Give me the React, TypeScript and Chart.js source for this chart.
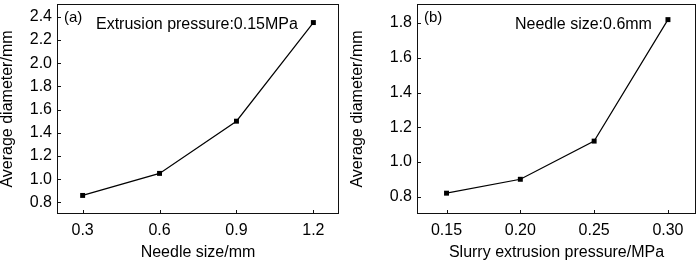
import React, { useEffect, useRef } from "react";
import { Chart, registerables } from "chart.js";

Chart.register(...registerables);

// ---- data ----
const needleSizes = [0.3, 0.6, 0.9, 1.2];
const diameterA = [0.86, 1.05, 1.5, 2.35];
const xTicksA = [0.3, 0.6, 0.9, 1.2];
const yTicksA = [0.8, 1.0, 1.2, 1.4, 1.6, 1.8, 2.0, 2.2, 2.4];

const pressures = [0.15, 0.2, 0.25, 0.3];
const diameterB = [0.82, 0.9, 1.12, 1.82];
const xTicksB = [0.15, 0.2, 0.25, 0.3];
const yTicksB = [0.8, 1.0, 1.2, 1.4, 1.6, 1.8];

const FONT = "'Liberation Sans', Arial, sans-serif";

type PanelCfg = {
  xs: number[];
  ys: number[];
  xTicks: number[];
  yTicks: number[];
  xDec: number;
  xMin: number;
  xMax: number;
  yMin: number;
  yMax: number;
  xTitle: string;
  yTitle: string;
  tag: string;
  note: string;
  noteDx: number;
  yAxisWidth: number;
  padRight: number;
};

const boxPlugin = {
  id: "boxPlugin",
  afterDraw(chart: any, _args: any, opts: any) {
    const ctx = chart.ctx;
    const a = chart.chartArea;
    ctx.save();
    ctx.strokeStyle = "#111";
    ctx.lineWidth = 1;
    ctx.strokeRect(Math.round(a.left) + 0.5, Math.round(a.top) + 0.5, Math.round(a.right - a.left) - 1, Math.round(a.bottom - a.top) - 1);
    // inward tick marks
    const xs = chart.scales.x;
    const ys = chart.scales.y;
    ctx.beginPath();
    xs.ticks.forEach((t: any) => {
      const px = Math.round(xs.getPixelForValue(t.value)) + 0.5;
      ctx.moveTo(px, a.bottom);
      ctx.lineTo(px, a.bottom - 4);
    });
    ys.ticks.forEach((t: any) => {
      const py = Math.round(ys.getPixelForValue(t.value)) + 0.5;
      ctx.moveTo(a.left, py);
      ctx.lineTo(a.left + 4, py);
    });
    ctx.stroke();
    // annotations
    ctx.fillStyle = "#000";
    ctx.textBaseline = "middle";
    ctx.textAlign = "left";
    ctx.font = "15px " + FONT;
    ctx.fillText(opts.tag, a.left + 7, a.top + 14);
    ctx.font = "16px " + FONT;
    ctx.fillText(opts.note, a.left + opts.noteDx, a.top + 21);
    ctx.restore();
  },
};

function Panel({ cfg }: { cfg: PanelCfg }) {
  const ref = useRef<HTMLCanvasElement>(null);
  useEffect(() => {
    if (!ref.current) return;
    const chart = new Chart(ref.current, {
      type: "line",
      data: {
        datasets: [
          {
            data: cfg.xs.map((x, i) => ({ x, y: cfg.ys[i] })),
            borderColor: "#000",
            backgroundColor: "#000",
            borderWidth: 1.2,
            pointStyle: "rect",
            pointRadius: 3.5,
            pointBorderWidth: 0,
            tension: 0,
          },
        ],
      },
      options: {
        responsive: false,
        animation: false,
        devicePixelRatio: 1,
        layout: { padding: { left: 0, right: cfg.padRight, top: 1, bottom: 0 } },
        plugins: {
          legend: { display: false },
          tooltip: { enabled: false },
          boxPlugin: { tag: cfg.tag, note: cfg.note, noteDx: cfg.noteDx },
        } as any,
        scales: {
          x: {
            type: "linear",
            min: cfg.xMin,
            max: cfg.xMax,
            grid: { display: false, drawTicks: false },
            border: { display: false },
            afterBuildTicks: (s: any) => {
              s.ticks = cfg.xTicks.map((v) => ({ value: v }));
            },
            afterFit: (s: any) => {
              s.height = 47;
              s.paddingLeft = 0;
              s.paddingRight = 0;
            },
            ticks: {
              padding: 7,
              color: "#000",
              font: { family: FONT, size: 16 },
              maxRotation: 0,
              callback: (v: any) => Number(v).toFixed(cfg.xDec),
            },
            title: {
              display: true,
              text: cfg.xTitle,
              color: "#000",
              font: { family: FONT, size: 16, lineHeight: 1 },
              padding: { top: 0, bottom: 0 },
            },
          },
          y: {
            type: "linear",
            min: cfg.yMin,
            max: cfg.yMax,
            grid: { display: false, drawTicks: false },
            border: { display: false },
            afterBuildTicks: (s: any) => {
              s.ticks = cfg.yTicks.map((v) => ({ value: v }));
            },
            afterFit: (s: any) => {
              s.width = cfg.yAxisWidth;
              s.paddingTop = 0;
              s.paddingBottom = 0;
            },
            ticks: {
              padding: 5,
              color: "#000",
              font: { family: FONT, size: 16 },
              callback: (v: any) => Number(v).toFixed(1),
            },
            title: {
              display: true,
              text: cfg.yTitle,
              color: "#000",
              font: { family: FONT, size: 16, lineHeight: 1 },
              padding: { top: 0, bottom: 0 },
            },
          },
        },
      },
      plugins: [boxPlugin],
    });
    return () => chart.destroy();
  }, [cfg]);
  return <canvas ref={ref} width={350} height={261} style={{ display: "block" }} />;
}

const cfgA: PanelCfg = {
  xs: needleSizes,
  ys: diameterA,
  xTicks: xTicksA,
  yTicks: yTicksA,
  xDec: 1,
  xMin: 0.2,
  xMax: 1.3,
  yMin: 0.7,
  yMax: 2.51,
  xTitle: "Needle size/mm",
  yTitle: "Average diameter/mm",
  tag: "(a)",
  note: "Extrusion pressure:0.15MPa",
  noteDx: 39,
  yAxisWidth: 57,
  padRight: 11,
};

const cfgB: PanelCfg = {
  xs: pressures,
  ys: diameterB,
  xTicks: xTicksB,
  yTicks: yTicksB,
  xDec: 2,
  xMin: 0.13,
  xMax: 0.319,
  yMin: 0.7,
  yMax: 1.91,
  xTitle: "Slurry extrusion pressure/MPa",
  yTitle: "Average diameter/mm",
  tag: "(b)",
  note: "Needle size:0.6mm",
  noteDx: 98,
  yAxisWidth: 67,
  padRight: 1,
};

export default function App() {
  return (
    <div style={{ position: "fixed", left: 0, top: 0, width: 700, height: 261, background: "#fff" }}>
      <div style={{ position: "absolute", left: 0, top: 0 }}>
        <Panel cfg={cfgA} />
      </div>
      <div style={{ position: "absolute", left: 350, top: 0 }}>
        <Panel cfg={cfgB} />
      </div>
    </div>
  );
}
